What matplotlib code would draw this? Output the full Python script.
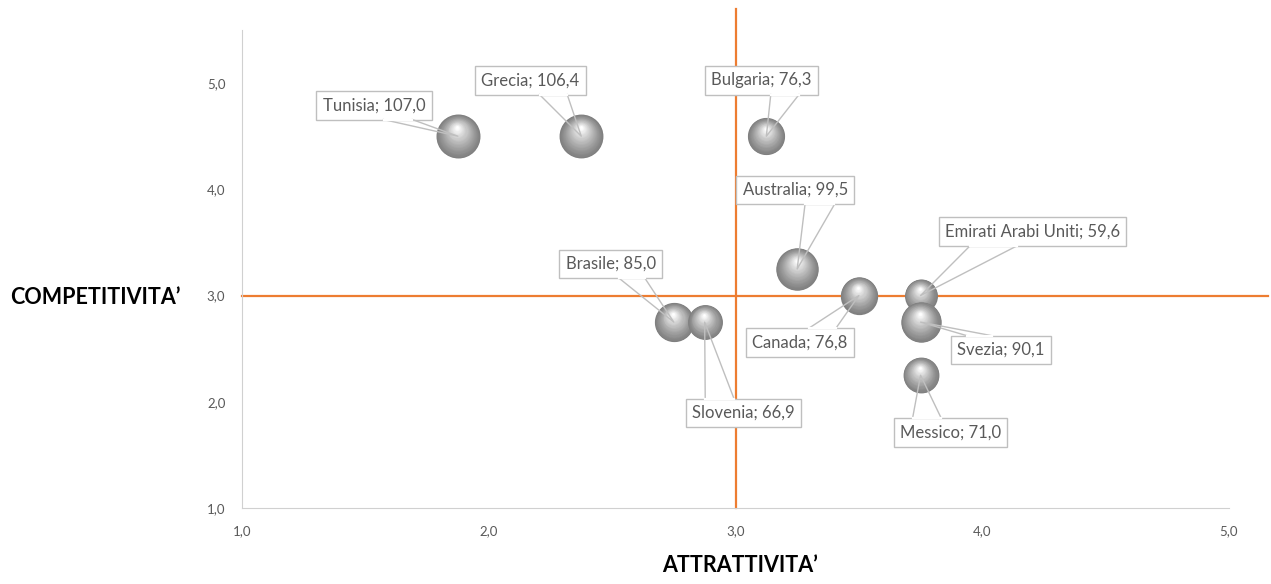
import matplotlib.pyplot as plt
from matplotlib.transforms import ScaledTranslation, IdentityTransform
from matplotlib.lines import Line2D
import numpy as np

# data
countries = ["Tunisia", "Grecia", "Bulgaria", "Australia", "Emirati Arabi Uniti",
             "Brasile", "Canada", "Svezia", "Slovenia", "Messico"]
attrattivita = [1.875, 2.375, 3.125, 3.25, 3.75, 2.75, 3.5, 3.75, 2.875, 3.75]
competitivita = [4.5, 4.5, 4.5, 3.25, 3.0, 2.75, 3.0, 2.75, 2.75, 2.25]
sizes = [107.0, 106.4, 76.3, 99.5, 59.6, 85.0, 76.8, 90.1, 66.9, 71.0]
x_ticks = [1.0, 2.0, 3.0, 4.0, 5.0]
y_ticks = [1.0, 2.0, 3.0, 4.0, 5.0]

# label box offsets from bubble centre, in pixels (layout only)
label_offsets = [(-84, 31), (-51, 56), (-5, 56), (-2, 79), (112, 64),
                 (-63, 58), (-59, -47), (80, -28), (39, -91), (30, -57)]

ORANGE = "#ED7D31"
GRAY_TXT = "#595959"
GRAY_LINE = "#bfbfbf"

plt.rcParams["font.family"] = ["Lato", "DejaVu Sans"]

fig = plt.figure(figsize=(12.71, 5.84), dpi=100)
ax = fig.add_axes([242 / 1271, 1 - 508 / 584, (1229 - 242) / 1271, (508 - 30) / 584])
ax.set_xlim(1, 5)
ax.set_ylim(1, 5.5)


def sphere(x, y, r_pt, n=40):
    # fake 3d ball: stacked discs getting lighter towards the highlight
    for k in range(n):
        t = k / (n - 1)
        rad = r_pt * (1 - 0.94 * t)
        dy = r_pt * 0.40 * t
        dx = -r_pt * 0.03 * t
        g = 0.50 + 0.50 * t ** 1.2
        tr = ax.transData + ScaledTranslation(dx / 72, dy / 72, fig.dpi_scale_trans)
        ax.scatter([x], [y], s=(2 * rad) ** 2, color=(g, g, g), lw=0,
                   transform=tr, zorder=3)


# radius in px for the biggest bubble is ~22
for x, y, v in zip(attrattivita, competitivita, sizes):
    r_px = 22 * np.sqrt(v / max(sizes))
    sphere(x, y, r_px * 72 / fig.dpi)

# quadrant lines, running past the frame like the original
ax.plot([3.0, 3.0], [1.0, 5.7], color=ORANGE, lw=1.6, clip_on=False, zorder=2)
ax.plot([1.0, 5.16], [3.0, 3.0], color=ORANGE, lw=1.6, clip_on=False, zorder=2)

labels = []
for name, x, y, v, off in zip(countries, attrattivita, competitivita, sizes, label_offsets):
    txt = f"{name}; {v:.1f}".replace(".", ",")
    a = ax.annotate(txt, xy=(x, y), xytext=off, textcoords="offset pixels",
                    ha="center", va="center", fontsize=12, color=GRAY_TXT, zorder=5,
                    bbox=dict(boxstyle="square,pad=0.38", fc="white", ec=GRAY_LINE, lw=1))
    labels.append(a)

ax.set_xticks(x_ticks)
ax.set_yticks(y_ticks)
ax.set_xticklabels([f"{t:.1f}".replace(".", ",") for t in x_ticks])
ax.set_yticklabels([f"{t:.1f}".replace(".", ",") for t in y_ticks])
ax.tick_params(length=0, labelsize=9.5, labelcolor=GRAY_TXT, pad=12)
ax.spines["right"].set_visible(False)
ax.spines["top"].set_visible(False)
ax.spines["left"].set_color("#d0d0d0")
ax.spines["bottom"].set_color("#d0d0d0")

# callout wedges, built like Excel's wedgeRectCallout
fig.canvas.draw()
renderer = fig.canvas.get_renderer()
for a, x, y in zip(labels, attrattivita, competitivita):
    bb = a.get_bbox_patch().get_window_extent(renderer)
    px, py = ax.transData.transform((x, y))
    w, h = bb.width, bb.height
    dx, dy = px - (bb.x0 + w / 2), py - (bb.y0 + h / 2)
    if abs(dy) / h > abs(dx) / w:
        ey = bb.y1 if dy > 0 else bb.y0
        f1, f2 = (7 / 12, 10 / 12) if dx > 0 else (2 / 12, 5 / 12)
        b1, b2 = (bb.x0 + w * f1, ey), (bb.x0 + w * f2, ey)
    else:
        ex = bb.x1 if dx > 0 else bb.x0
        f1, f2 = (7 / 12, 10 / 12) if dy < 0 else (2 / 12, 5 / 12)
        b1, b2 = (ex, bb.y1 - h * f1), (ex, bb.y1 - h * f2)
    fig.add_artist(Line2D([b1[0], px, b2[0]], [b1[1], py, b2[1]], color=GRAY_LINE,
                          lw=1, transform=IdentityTransform(), zorder=4))
    fig.add_artist(Line2D([b1[0], b2[0]], [b1[1], b2[1]], color="white", lw=1.6,
                          transform=IdentityTransform(), zorder=6))

fig.text(95 / 1271, 1 - 297 / 584, "COMPETITIVITA\u2019", ha="center", va="center",
         fontsize=15.5, fontweight="bold", color="black")
fig.text(740 / 1271, 1 - 566 / 584, "ATTRATTIVITA\u2019", ha="center", va="center",
         fontsize=15.5, fontweight="bold", color="black")

plt.savefig("out.png", dpi=100)
